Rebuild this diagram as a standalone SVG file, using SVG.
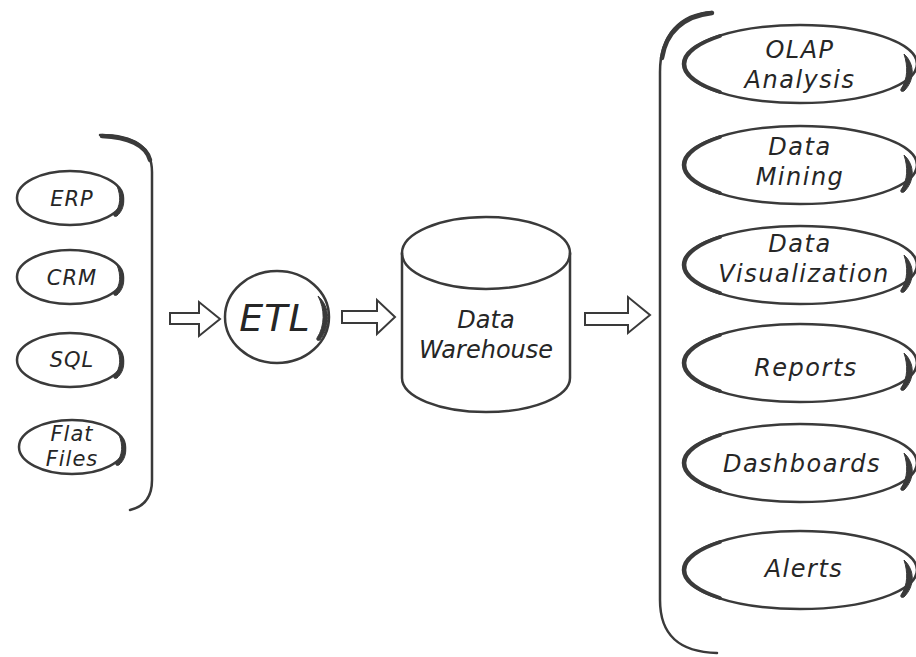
<svg xmlns="http://www.w3.org/2000/svg" xmlns:xlink="http://www.w3.org/1999/xlink" width="916" height="657" viewBox="0 0 916 657">
<style>
.ln{fill:none;stroke:#3a3a3a;stroke-width:2.5;stroke-linecap:round}
.thk{fill:none;stroke:#3a3a3a;stroke-width:4.5;stroke-linecap:round}
.thm{fill:none;stroke:#3a3a3a;stroke-width:3.8;stroke-linecap:round}
.hk{fill:#3a3a3a;stroke:#3a3a3a;stroke-width:1}
.arr{fill:#fff;stroke:#3a3a3a;stroke-width:2;stroke-linejoin:miter}
.t{font-family:"DejaVu Sans","Liberation Sans",sans-serif;font-style:italic;fill:#262626;text-anchor:middle;letter-spacing:1px}
.ts{font-size:21px}
.tb{font-size:24px;letter-spacing:1.5px}
</style>
<defs>
<g id="pill-s">
<ellipse cx="0" cy="0" rx="53" ry="27" class="ln"/>
<path class="hk" d="M47,-12 C56,-4 56,10 47,18 C45,19 43,18 44,16 C51,8 51,-2 47,-12 Z"/>
</g>
<g id="pill-b">
<ellipse cx="0" cy="0" rx="117" ry="39" class="ln"/>
<path class="thm" d="M-80,-28 A117 39 0 0 0 -80,28"/>
<path class="hk" d="M104,-10 C115,0 115,16 104,27 C102,28 100,27 101,25 C108,15 108,2 104,-10 Z"/>
</g>
</defs>
<rect width="916" height="657" fill="#fff"/>

<g id="sources-bracket">
<path class="ln" d="M100,135 C132,135 152,145 152,172 L152,480 C152,498 143,507 130,510"/>
<path class="thk" d="M102,136 C128,137 146,145 150,160"/>
</g>
<g id="erp"><use xlink:href="#pill-s" x="70" y="198"/><text class="t ts" x="72" y="206">ERP</text></g>
<g id="crm"><use xlink:href="#pill-s" x="70" y="277"/><text class="t ts" x="72" y="285">CRM</text></g>
<g id="sql"><use xlink:href="#pill-s" x="70" y="360"/><text class="t ts" x="72" y="367">SQL</text></g>
<g id="flatfiles"><use xlink:href="#pill-s" x="72" y="447"/><text class="t ts" x="72" y="441">Flat</text><text class="t ts" x="72" y="466">Files</text></g>

<g id="etl">
<ellipse cx="277" cy="317" rx="52" ry="46" class="ln"/>
<path class="hk" d="M318,296 C330,306 331,326 320,340 C318,341 316,340 317,338 C325,326 325,309 318,296 Z"/>
<text class="t" style="font-size:38px" x="275" y="331">ETL</text>
</g>

<g id="warehouse">
<path class="ln" d="M402,253 L402,378 A84 34 0 0 0 570,378 L570,253"/>
<ellipse cx="486" cy="253" rx="84" ry="36" class="ln"/>
<text class="t" style="font-size:24px;letter-spacing:0" x="486" y="328">Data</text>
<text class="t" style="font-size:24px;letter-spacing:0" x="486" y="358">Warehouse</text>
</g>

<g id="outputs-bracket">
<path class="ln" d="M712,12 C680,14 660,35 660,72 L660,600 C660,636 680,652 717,653"/>
<path class="thk" d="M712,13 C684,16 666,32 662,58"/>
</g>
<g id="olap"><use xlink:href="#pill-b" x="800" y="64"/><text class="t tb" x="800" y="58">OLAP</text><text class="t tb" x="800" y="88">Analysis</text></g>
<g id="mining"><use xlink:href="#pill-b" x="800" y="165"/><text class="t tb" x="800" y="155">Data</text><text class="t tb" x="800" y="185">Mining</text></g>
<g id="visualization"><use xlink:href="#pill-b" x="800" y="265"/><text class="t tb" x="800" y="252">Data</text><text class="t tb" x="804" y="282">Visualization</text></g>
<g id="reports"><use xlink:href="#pill-b" x="800" y="363"/><text class="t tb" x="806" y="376">Reports</text></g>
<g id="dashboards"><use xlink:href="#pill-b" x="800" y="463"/><text class="t tb" x="802" y="472">Dashboards</text></g>
<g id="alerts"><use xlink:href="#pill-b" x="800" y="570"/><text class="t tb" x="804" y="577">Alerts</text></g>

<g id="connectors">
<polygon class="arr" points="170,313 199,313 199,302 220,319 199,336 199,324 170,324"/>
<polygon class="arr" points="342,311 377,311 377,300 395,317 377,334 377,323 342,323"/>
<polygon class="arr" points="585,313 628,313 628,297 650,315 628,333 628,325 585,325"/>
</g>
</svg>
